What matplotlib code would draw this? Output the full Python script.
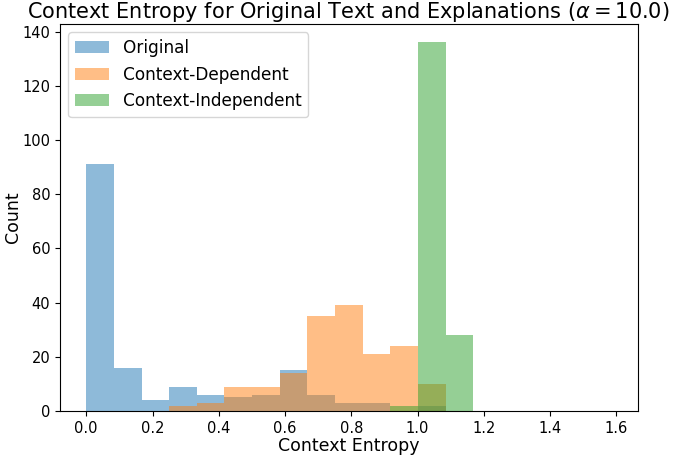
import numpy as np
import matplotlib
matplotlib.use('Agg')
import matplotlib.pyplot as plt

# bin edges: 19 bins between 0 and log2(3)
edges = np.linspace(0, np.log2(3), 20)

# counts per bin
original = [91, 16, 4, 9, 6, 5, 6, 15, 6, 3, 3, 0, 2, 0, 0, 0, 0, 0, 0]
dependent = [0, 0, 0, 2, 3, 9, 9, 14, 35, 39, 21, 24, 10, 0, 0, 0, 0, 0, 0]
independent = [0, 0, 0, 0, 0, 0, 0, 0, 0, 0, 0, 2, 136, 28, 0, 0, 0, 0, 0]
labels = ['Original', 'Context-Dependent', 'Context-Independent']

fig = plt.figure(figsize=(6.74, 4.57), dpi=100)
ax = fig.add_axes([0.089, 0.1007, 0.857, 0.8468])

centers = (edges[:-1] + edges[1:]) / 2
for counts, lab in zip([original, dependent, independent], labels):
  ax.hist(centers, bins=edges, weights=counts, alpha=0.5, label=lab)

ax.set_title(r'Context Entropy for Original Text and Explanations ($\alpha = 10.0$)', fontsize=15, pad=3)
ax.set_xlabel('Context Entropy', fontsize=12.5, labelpad=1)
ax.set_ylabel('Count', fontsize=12.5, labelpad=0)
ax.set_xticks(np.arange(0, 1.61, 0.2))
ax.tick_params(labelsize=10.5)
ax.legend(loc='upper left', fontsize=12.2)

fig.savefig('out.png', dpi=100)
